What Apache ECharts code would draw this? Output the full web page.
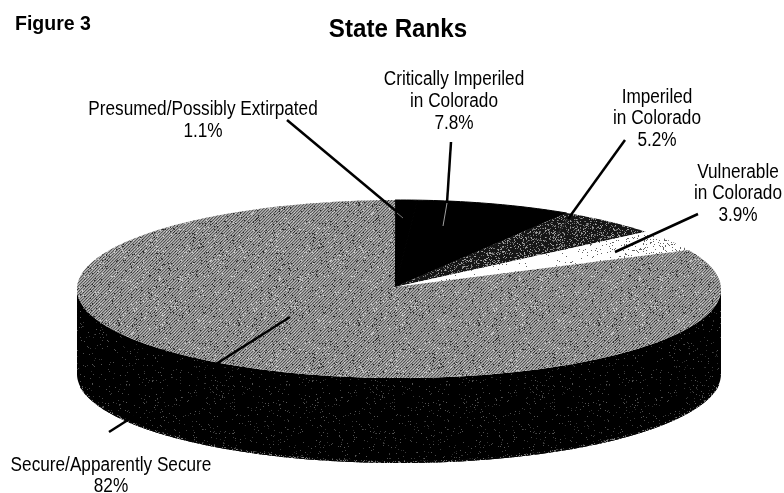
<!DOCTYPE html>
<html><head><meta charset="utf-8">
<style>html,body{margin:0;padding:0;background:#fff}#c{width:784px;height:493px}</style>
<script src="https://cdn.jsdelivr.net/npm/echarts@6/dist/echarts.min.js"></script>
</head><body><div id="c"></div>
<script>
// Data
const categories = ['Presumed/Possibly Extirpated','Critically Imperiled','Imperiled','Vulnerable','Secure/Apparently Secure'];
const shares = [1.1, 7.8, 5.2, 3.9, 82];

// Layout of the tilted disc
const disc = {cx:399, cy:289, rx:322, ry:89, depth:85, apex:[395,287], startDeg:-0.7};

// Print-like halftone textures: a fixed pixel hash (texture only, carries no data)
function noise(x,y){ const s = Math.sin(x*12.9898+y*78.233)*43758.5453; return s-Math.floor(s); }
function texture(w,h,shade){
  const cv = document.createElement('canvas'); cv.width = w; cv.height = h;
  const g = cv.getContext('2d');
  for(let y=0;y<h;y++) for(let x=0;x<w;x++){ const v = Math.round(shade(x,y,noise(x,y))); g.fillStyle = 'rgb('+v+','+v+','+v+')'; g.fillRect(x,y,1,1); }
  return {image:cv, repeat:'repeat'};
}
const hatch = texture(120,120,(x,y,n)=>{
  const band = [88,148,178][(x+y)%3];
  return n<0.05 ? 45 : n>0.96 ? 205 : band - 8 + 16*noise(y,x);
});
const sideTex = texture(160,160,(x,y,n)=> n<0.035 ? 40+50*noise(y,x) : 0);
const rimTex = texture(80,80,(x,y,n)=> n<0.25 ? 90+50*noise(y,x) : 5);
const darkTex = texture(120,120,(x,y,n)=> n<0.24 ? 85+90*noise(y,x) : 22);
const lightTex = texture(784,493,(x,y,n)=>{
  const d = Math.max(0,Math.min(1,(x-560)/120));
  return n < 0.02+0.11*d ? 100 : 255;
});
const fills = ['#000000','#000000',darkTex,lightTex,hatch];

// Labels and leader lines (annotation layout)
const labelBlocks = [
 {lines:['Presumed/Possibly Extirpated','1.1%'], x:203, y:[109,131]},
 {lines:['Critically Imperiled','in Colorado','7.8%'], x:454, y:[79,101,123]},
 {lines:['Imperiled','in Colorado','5.2%'], x:657, y:[97,118,140]},
 {lines:['Vulnerable','in Colorado','3.9%'], x:738, y:[172,193,215]},
 {lines:['Secure/Apparently Secure','82%'], x:111, y:[465,486]}
];
const leaders = [
 {p:[287,120,396,211], c:'#000', w:2.5},
 {p:[397,213,403,218], c:'#7a7a7a', w:1},
 {p:[451,142,447,203], c:'#000', w:2.5},
 {p:[447,203,443,226], c:'#a0a0a0', w:1},
 {p:[625,140,568,219], c:'#000', w:2.5},
 {p:[568,219,555,237], c:'#222', w:1.5},
 {p:[698,214,615,252], c:'#000', w:2.5},
 {p:[290,317,109,432], c:'#000', w:2.5}
];

const FONT = '"Liberation Sans",Arial,sans-serif';
const elements = [];
elements.push({type:'text', x:15, y:24, scaleX:0.93, style:{text:'Figure 3', fill:'#000', font:'bold 21px '+FONT, verticalAlign:'middle'}});
elements.push({type:'text', x:398, y:30, scaleX:0.93, style:{text:'State Ranks', fill:'#000', font:'bold 26px '+FONT, align:'center', verticalAlign:'middle'}});
labelBlocks.forEach(b=>b.lines.forEach((t,i)=>elements.push({type:'text', x:b.x, y:b.y[i], scaleX:0.86,
  style:{text:t, fill:'#000', font:'20px '+FONT, align:'center', verticalAlign:'middle'}})));
leaders.forEach(l=>elements.push({type:'line', z:10, shape:{x1:l.p[0],y1:l.p[1],x2:l.p[2],y2:l.p[3]}, style:{stroke:l.c, lineWidth:l.w}}));

// Cumulative angle spans
let run = 0;
const total = shares.reduce((a,b)=>a+b,0);
const sliceData = shares.map((v,i)=>{ const s = run; run += v; return {name:categories[i], value:[s/total*360, run/total*360, i, v]}; });

function pt(t, dy){ const a = (t+disc.startDeg)*Math.PI/180; return [disc.cx+disc.rx*Math.sin(a), disc.cy-disc.ry*Math.cos(a)+(dy||0)]; }
function arc(a,b,dy){ const n = Math.max(2,Math.ceil(b-a)); const o=[]; for(let k=0;k<=n;k++) o.push(pt(a+(b-a)*k/n,dy)); return o; }

function renderSlice(params, api){
  const a = api.value(0), b = api.value(1), i = api.value(2);
  const kids = [];
  const sa = Math.max(a,90), sb = Math.min(b,270);
  if(sb>sa){
    const top = arc(sa,sb,0), low = arc(sa,sb,disc.depth);
    kids.push({type:'polygon', shape:{points:top.concat(low.slice().reverse())}, style:{fill:sideTex, stroke:null}});
    kids.push({type:'polyline', shape:{points:arc(sa+8,sb-8,disc.depth-1)}, style:{fill:null, stroke:rimTex, lineWidth:2, lineCap:'butt'}});
  }
  const solid = typeof fills[i] === 'string';
  kids.push({type:'polygon', shape:{points:[disc.apex].concat(arc(a,b,0))},
    style:{fill:fills[i], stroke: solid ? fills[i] : null, lineWidth: solid ? 1 : 0}});
  return {type:'group', children:kids};
}

const chart = echarts.init(document.getElementById('c'), null, {renderer:'canvas', width:784, height:493});
chart.setOption({
  backgroundColor:'#fff', animation:false,
  series:[{type:'custom', coordinateSystem:'none', renderItem:renderSlice, data:sliceData, silent:true}],
  graphic:{elements}
});
</script></body></html>
